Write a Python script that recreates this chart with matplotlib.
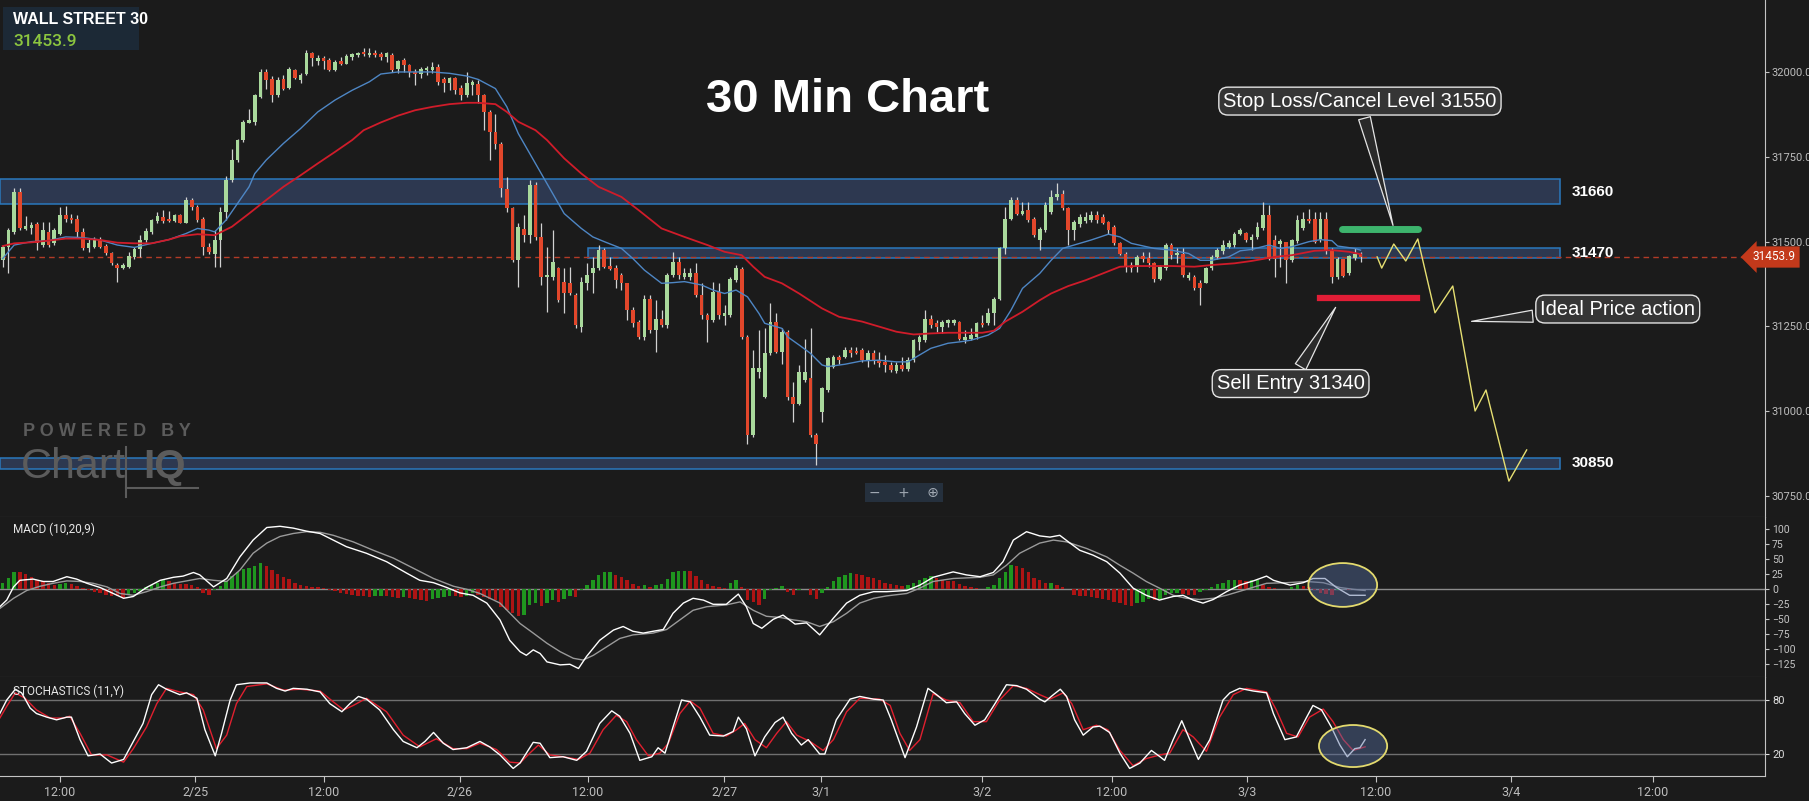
import numpy as np
import matplotlib
matplotlib.use("Agg")
import matplotlib.pyplot as plt
from matplotlib.patches import Rectangle, Ellipse
from matplotlib.lines import Line2D

plt.rcParams['font.family'] = ['Roboto', 'DejaVu Sans']

# ---------------- data (30 min bars) ----------------
opens = [31445, 31485, 31529, 31647, 31536, 31539, 31552, 31490, 31529, 31497,
         31524, 31578, 31571, 31566, 31529, 31480, 31485, 31506, 31487, 31467,
         31431, 31421, 31426, 31455, 31477, 31505, 31529, 31562, 31573, 31568,
         31562, 31578, 31556, 31623, 31603, 31568, 31485, 31465, 31505, 31588,
         31682, 31741, 31800, 31851, 31854, 31928, 32001, 31979, 31933, 31979,
         31955, 32006, 31977, 31994, 32056, 32034, 32041, 32036, 32008, 32033,
         32026, 32046, 32051, 32060, 32051, 32058, 32054, 32044, 32051, 32011,
         32036, 32021, 32001, 31994, 32006, 32006, 32016, 31979, 31967, 31982,
         31955, 31933, 31962, 31965, 31933, 31883, 31824, 31788, 31654, 31598,
         31445, 31536, 31519, 31667, 31514, 31396, 31396, 31421, 31382, 31379,
         31342, 31249, 31377, 31406, 31421, 31475, 31428, 31421, 31401, 31377,
         31298, 31264, 31219, 31332, 31239, 31273, 31254, 31401, 31440, 31396,
         31396, 31406, 31342, 31283, 31268, 31352, 31280, 31283, 31386, 31418,
         31219, 30929, 31116, 31042, 31170, 31264, 31175, 31234, 31042, 31022,
         31091, 31096, 30929, 30998, 31062, 31131, 31160, 31160, 31180, 31178,
         31180, 31150, 31170, 31152, 31145, 31136, 31119, 31136, 31123, 31150,
         31204, 31209, 31273, 31259, 31249, 31259, 31259, 31264, 31211, 31214,
         31219, 31261, 31259, 31288, 31332, 31480, 31568, 31623, 31583, 31593,
         31568, 31505, 31534, 31588, 31632, 31642, 31598, 31534, 31552, 31562,
         31564, 31578, 31573, 31559, 31544, 31495, 31465, 31431, 31426, 31457,
         31453, 31436, 31391, 31421, 31490, 31460, 31465, 31394, 31396, 31379,
         31379, 31421, 31455, 31473, 31483, 31490, 31524, 31526, 31505, 31514,
         31539, 31578, 31505, 31493, 31500, 31445, 31503, 31539, 31568, 31568,
         31505, 31568, 31475, 31396, 31448, 31406, 31453, 31463]
highs = [31490, 31539, 31657, 31657, 31575, 31559, 31559, 31559, 31559, 31539,
         31603, 31605, 31583, 31578, 31539, 31509, 31514, 31514, 31492, 31470,
         31436, 31436, 31470, 31483, 31519, 31539, 31568, 31588, 31593, 31591,
         31583, 31583, 31632, 31628, 31608, 31573, 31495, 31534, 31603, 31693,
         31775, 31802, 31859, 31893, 31937, 32011, 32011, 31989, 31987, 31992,
         32016, 32011, 31997, 32065, 32060, 32051, 32048, 32041, 32036, 32044,
         32053, 32058, 32060, 32072, 32072, 32065, 32060, 32060, 32056, 32036,
         32041, 32026, 32011, 32016, 32018, 32031, 32026, 31985, 31987, 31987,
         31962, 32001, 31977, 31977, 31937, 31888, 31878, 31795, 31692, 31603,
         31554, 31578, 31682, 31677, 31554, 31485, 31534, 31426, 31421, 31426,
         31347, 31396, 31436, 31455, 31490, 31480, 31455, 31431, 31406, 31379,
         31308, 31268, 31342, 31342, 31327, 31298, 31408, 31470, 31455, 31421,
         31421, 31436, 31377, 31288, 31382, 31377, 31313, 31396, 31431, 31426,
         31224, 31180, 31239, 31244, 31318, 31288, 31244, 31239, 31086, 31136,
         31214, 31244, 30934, 31072, 31160, 31165, 31165, 31190, 31190, 31190,
         31185, 31180, 31180, 31175, 31165, 31145, 31145, 31158, 31160, 31214,
         31224, 31298, 31283, 31268, 31270, 31273, 31273, 31266, 31239, 31244,
         31264, 31283, 31303, 31337, 31485, 31603, 31632, 31632, 31618, 31618,
         31573, 31544, 31618, 31652, 31672, 31652, 31603, 31564, 31583, 31588,
         31591, 31591, 31583, 31562, 31549, 31500, 31470, 31440, 31460, 31470,
         31470, 31440, 31431, 31497, 31495, 31480, 31480, 31411, 31401, 31386,
         31426, 31460, 31480, 31505, 31505, 31529, 31539, 31529, 31524, 31559,
         31618, 31608, 31519, 31509, 31500, 31509, 31578, 31588, 31595, 31588,
         31588, 31588, 31480, 31455, 31450, 31460, 31480, 31470]
lows = [31426, 31406, 31524, 31534, 31534, 31524, 31475, 31485, 31485, 31490,
        31519, 31559, 31554, 31514, 31475, 31470, 31480, 31480, 31460, 31431,
        31382, 31418, 31421, 31450, 31455, 31500, 31524, 31554, 31556, 31559,
        31559, 31554, 31554, 31593, 31559, 31460, 31465, 31426, 31426, 31564,
        31677, 31736, 31795, 31849, 31844, 31923, 31952, 31913, 31928, 31949,
        31952, 31979, 31967, 31992, 32018, 32021, 32011, 32004, 32004, 32021,
        32024, 32036, 32046, 32048, 32046, 32046, 32036, 32031, 32001, 31997,
        32001, 31987, 31962, 31982, 31992, 31997, 31962, 31942, 31947, 31937,
        31918, 31928, 31933, 31908, 31829, 31741, 31775, 31632, 31588, 31440,
        31367, 31500, 31495, 31505, 31372, 31293, 31386, 31322, 31288, 31342,
        31244, 31234, 31357, 31347, 31416, 31421, 31416, 31362, 31357, 31268,
        31249, 31214, 31211, 31229, 31175, 31249, 31244, 31396, 31391, 31391,
        31386, 31337, 31273, 31204, 31264, 31273, 31254, 31278, 31382, 31214,
        30904, 30924, 31096, 31037, 31165, 31170, 31140, 31032, 30968, 31017,
        31086, 30924, 30840, 30968, 31057, 31126, 31140, 31155, 31160, 31168,
        31145, 31131, 31140, 31131, 31116, 31116, 31113, 31119, 31119, 31145,
        31180, 31204, 31244, 31234, 31229, 31249, 31254, 31209, 31200, 31209,
        31214, 31249, 31254, 31254, 31327, 31465, 31564, 31578, 31578, 31559,
        31514, 31475, 31529, 31583, 31623, 31593, 31490, 31505, 31544, 31556,
        31559, 31556, 31552, 31524, 31490, 31460, 31411, 31411, 31411, 31440,
        31426, 31382, 31386, 31416, 31450, 31436, 31396, 31386, 31357, 31313,
        31377, 31416, 31450, 31465, 31480, 31485, 31519, 31500, 31475, 31509,
        31534, 31445, 31396, 31426, 31377, 31440, 31497, 31534, 31554, 31495,
        31500, 31465, 31377, 31391, 31396, 31401, 31447, 31440]
closes = [31485, 31534, 31647, 31539, 31546, 31549, 31495, 31534, 31490, 31534,
          31578, 31568, 31564, 31529, 31480, 31497, 31506, 31485, 31467, 31436,
          31421, 31431, 31457, 31477, 31506, 31532, 31564, 31575, 31562, 31562,
          31578, 31556, 31623, 31603, 31564, 31485, 31470, 31505, 31588, 31682,
          31741, 31800, 31854, 31859, 31933, 32001, 31977, 31933, 31977, 31952,
          32011, 31982, 31992, 32056, 32041, 32041, 32034, 32006, 32031, 32026,
          32048, 32054, 32058, 32053, 32058, 32051, 32046, 32056, 32006, 32033,
          32021, 32001, 31994, 32011, 32014, 32016, 31972, 31969, 31984, 31947,
          31933, 31967, 31972, 31933, 31883, 31824, 31788, 31657, 31598, 31445,
          31544, 31519, 31667, 31514, 31396, 31401, 31441, 31327, 31347, 31347,
          31254, 31382, 31401, 31421, 31475, 31426, 31420, 31386, 31377, 31298,
          31259, 31219, 31332, 31239, 31273, 31254, 31401, 31440, 31401, 31406,
          31406, 31342, 31283, 31268, 31352, 31283, 31288, 31391, 31421, 31219,
          30929, 31126, 31126, 31170, 31264, 31175, 31234, 31042, 31022, 31116,
          31116, 30929, 30904, 31067, 31155, 31160, 31150, 31180, 31170, 31172,
          31150, 31170, 31150, 31142, 31136, 31121, 31137, 31123, 31150, 31209,
          31219, 31273, 31254, 31249, 31264, 31268, 31268, 31214, 31219, 31224,
          31259, 31254, 31288, 31332, 31480, 31568, 31623, 31583, 31591, 31564,
          31519, 31536, 31608, 31632, 31642, 31598, 31534, 31559, 31573, 31573,
          31578, 31564, 31556, 31534, 31495, 31465, 31426, 31423, 31455, 31450,
          31436, 31391, 31426, 31490, 31460, 31467, 31401, 31401, 31362, 31362,
          31421, 31455, 31475, 31490, 31495, 31524, 31534, 31505, 31514, 31544,
          31578, 31450, 31450, 31503, 31445, 31505, 31564, 31568, 31562, 31500,
          31568, 31475, 31396, 31448, 31398, 31457, 31463, 31454]

# moving averages (blue fast, red slow), sampled along the lines
ma_fast_x = [0, 2, 5, 8, 11, 14, 17, 20, 23, 26, 29, 32, 34, 36, 37, 39, 41, 43, 44, 46,
             49, 52, 55, 58, 61, 64, 66, 69, 72, 75, 78, 81, 83, 86, 88, 90, 92, 94, 96, 98,
             101, 103, 105, 108, 110, 112, 115, 117, 119, 122, 124, 126, 128, 130, 132, 133,
             136, 137, 139, 141, 143, 144, 147, 150, 153, 156, 158, 160, 162, 165, 167, 169,
             172, 174, 176, 178, 181, 183, 185, 187, 190, 193, 195, 197, 201, 204, 207, 209,
             211, 214, 216, 218, 221, 223, 225, 228, 230, 232, 233, 236, 237]
ma_fast_y = [31450, 31490, 31500, 31503, 31514, 31512, 31505, 31490, 31483, 31495,
             31506, 31524, 31539, 31534, 31529, 31564, 31613, 31662, 31701, 31741,
             31790, 31834, 31883, 31918, 31947, 31972, 31995, 32001, 32001, 32001,
             31997, 31989, 31979, 31952, 31898, 31819, 31760, 31701, 31642, 31583,
             31539, 31514, 31500, 31480, 31450, 31416, 31377, 31379, 31382, 31372,
             31357, 31347, 31357, 31337, 31288, 31259, 31244, 31219, 31195, 31170,
             31136, 31131, 31138, 31148, 31150, 31145, 31145, 31165, 31185, 31200,
             31204, 31209, 31224, 31244, 31298, 31362, 31406, 31445, 31480, 31490,
             31505, 31522, 31514, 31495, 31480, 31475, 31465, 31445, 31445, 31455,
             31473, 31477, 31490, 31480, 31485, 31500, 31506, 31503, 31487, 31480, 31475]
ma_slow_x = [0, 2, 5, 8, 11, 14, 17, 20, 23, 26, 29, 31, 34, 37, 40, 43, 46, 49, 52, 55,
             58, 61, 63, 66, 69, 72, 75, 78, 81, 83, 86, 88, 90, 93, 95, 98, 101, 104, 108, 111,
             115, 119, 123, 126, 129, 131, 133, 136, 139, 143, 146, 150, 153, 156, 159, 162,
             165, 168, 171, 173, 175, 178, 181, 183, 186, 189, 192, 195, 198, 201, 204, 208,
             211, 215, 218, 222, 225, 229, 232, 235, 237]
ma_slow_y = [31487, 31495, 31498, 31503, 31509, 31509, 31505, 31497, 31495, 31495,
             31506, 31516, 31522, 31519, 31544, 31583, 31623, 31662, 31696, 31731,
             31765, 31800, 31829, 31852, 31872, 31888, 31898, 31906, 31910, 31910,
             31906, 31883, 31854, 31829, 31800, 31746, 31701, 31662, 31632, 31593,
             31539, 31514, 31490, 31470, 31460, 31426, 31396, 31377, 31347, 31303,
             31278, 31264, 31249, 31234, 31226, 31229, 31231, 31231, 31231, 31237,
             31264, 31293, 31327, 31347, 31369, 31386, 31406, 31426, 31428, 31428,
             31428, 31426, 31431, 31436, 31443, 31455, 31460, 31473, 31475, 31470, 31463]

# support / resistance zones
zone_names = ['31660', '31470', '30850']
zone_low = [31612, 31452, 30830]
zone_high = [31684, 31482, 30862]
zone_start = [-0.47, 102.2, -0.47]
zone_end = 271.8

# trade plan drawn on the chart
plan_x = [239.9, 240.7, 242.8, 244.9, 247.0, 250.0, 253.1, 257.0, 258.9, 262.9, 266.0]
plan_y = [31455, 31422, 31493, 31443, 31508, 31290, 31369, 31000, 31062, 30793, 30885]
stop_level, stop_span = 31537, (233.7, 247.0)
entry_level, entry_span = 31333, (229.9, 246.8)
last_price = 31453.9

# MACD (10,20,9)
macd_x = [-0.5, 0.7, 1.9, 3.0, 5.3, 7.1, 8.8, 11.2, 12.9, 14.7, 17.0, 19.3, 21.1, 22.8, 25.1,
          27.5, 29.8, 31.5, 33.3, 34.4, 36.8, 39.1, 41.4, 43.7, 46.1, 48.4, 50.7, 53.0, 55.4,
          57.7, 60.0, 63.5, 67.0, 70.5, 72.8, 75.2, 77.5, 79.8, 82.1, 84.5, 86.8, 88.5, 90.3,
          91.4, 92.6, 93.8, 95.0, 97.3, 99.0, 100.5, 101.9, 104.2, 106.6, 108.3, 110.0, 111.8,
          113.5, 115.3, 117.0, 118.8, 120.5, 122.3, 124.0, 126.3, 128.4, 129.8, 131.0, 132.5,
          134.5, 136.2, 138.3, 140.3, 142.6, 145.0, 147.3, 149.6, 152.0, 154.3, 157.8, 160.1,
          162.4, 165.9, 168.2, 170.6, 172.9, 174.6, 176.4, 178.7, 181.0, 182.8, 184.5, 186.3,
          188.0, 190.3, 192.7, 195.0, 197.3, 199.6, 201.9, 204.3, 206.0, 207.8, 209.5, 211.3,
          213.6, 215.9, 218.3, 220.6, 221.8, 224.7, 227.0, 228.7, 230.8, 232.8, 235.1, 237.8]
macd_y = [-30, -19, 3, 14, 16, 12, 12, 20, 16, 9, 2, -8, -16, -13, 2, 14, 19, 21, 27, 23,
          3, 17, 53, 81, 102, 104, 101, 96, 92, 81, 70, 59, 45, 26, 14, 10, 2, -7, -11, -24,
          -52, -86, -105, -111, -102, -108, -122, -127, -126, -133, -113, -86, -69, -63, -71,
          -74, -71, -68, -41, -24, -16, -19, -26, -26, -9, -30, -58, -66, -51, -44, -59, -57,
          -77, -49, -24, -11, -5, -5, -3, 6, 19, 28, 23, 20, 27, 45, 81, 95, 88, 86, 89, 76,
          64, 56, 45, 26, 1, -11, -19, -13, -11, -19, -24, -18, -5, 6, 13, 21, 14, 6, 10, 17,
          17, 2, -11, -11]
signal_x = [-0.5, 1.9, 4.2, 6.5, 8.8, 11.2, 13.5, 15.8, 18.2, 20.5, 22.8, 25.1, 27.5, 29.8,
            32.1, 34.4, 36.8, 39.1, 41.4, 43.7, 46.1, 48.4, 50.7, 53.0, 55.4, 57.7, 61.2, 64.7,
            68.2, 71.7, 75.2, 78.7, 81.0, 83.3, 86.8, 90.3, 92.6, 95.0, 97.3, 99.6, 101.3, 103.1,
            105.4, 107.7, 110.0, 113.5, 115.9, 118.2, 120.5, 122.9, 126.3, 128.7, 131.0, 133.3,
            135.7, 138.0, 140.3, 142.6, 145.0, 147.3, 149.6, 152.0, 154.3, 157.8, 160.1, 162.4,
            165.9, 170.6, 172.9, 175.2, 177.5, 181.0, 183.4, 185.7, 189.2, 192.7, 195.0, 197.3,
            199.6, 201.9, 204.3, 206.6, 208.9, 211.3, 213.6, 217.1, 220.6, 224.1, 227.6, 230.5,
            233.4, 235.7, 237.8]
signal_y = [-33, -16, -3, 4, 9, 13, 12, 9, 3, -8, -11, -5, 3, 9, 13, 17, 14, 12, 31, 59,
            76, 87, 92, 95, 94, 89, 78, 64, 51, 34, 17, 4, -1, -8, -24, -58, -74, -91, -105,
            -116, -119, -111, -97, -83, -77, -74, -68, -52, -36, -30, -27, -22, -36, -46, -48,
            -52, -55, -63, -55, -41, -24, -16, -12, -8, 1, 12, 17, 19, 23, 39, 59, 76, 81, 78,
            67, 53, 39, 26, 12, 1, -11, -16, -18, -16, -11, -1, 9, 10, 12, 10, 2, -1, -3]
macd_hist = [9, 17, 28, 27, 24, 20, 15, 12, 9, 6,
             7, 9, 8, 4, 1, -2, -5, -8, -11, -12,
             -13, -15, -11, -8, -4, 2, 6, 10, 14, 12,
             9, 8, 7, 6, 3, -8, -10, -3, 4, 12,
             21, 28, 32, 34, 37, 42, 38, 31, 24, 19,
             16, 10, 6, 5, 3, 2, 1, -2, -4, -7,
             -9, -11, -12, -13, -14, -13, -12, -13, -14, -15,
             -14, -16, -18, -19, -20, -18, -16, -14, -12, -13,
             -14, -12, -8, -11, -14, -17, -19, -30, -36, -41,
             -46, -44, -27, -24, -29, -24, -19, -22, -18, -13,
             -14, -3, 6, 14, 23, 27, 28, 23, 20, 14,
             8, 5, 6, 3, 6, 7, 16, 27, 29, 30,
             29, 21, 14, 8, 4, 2, 1, 9, 14, 2,
             -19, -22, -27, -18, -2, 1, 4, -5, -11, -2,
             -1, -11, -18, -8, 2, 12, 19, 23, 26, 25,
             23, 20, 17, 14, 10, 8, 6, 4, 6, 10,
             14, 17, 21, 17, 14, 13, 12, 8, 4, 2,
             1, 0, 2, 6, 17, 28, 39, 38, 34, 28,
             17, 14, 9, 10, 6, 2, -1, -10, -12, -13,
             -14, -16, -18, -19, -22, -24, -27, -29, -24, -22,
             -17, -19, -18, -10, -8, -7, -9, -10, -11, -5,
             -2, 3, 8, 10, 14, 15, 14, 12, 14, 15,
             6, 2, 1, -1, -1, 2, 6, 4, 2, -3,
             -7, -9, -11, -2, -1, -2, -1, -1]

# STOCHASTICS (11,Y)
stoch_k_x = [-0.5, 0.7, 2.2, 3.3, 4.8, 5.9, 7.7, 9.4, 11.2, 12.0, 13.5, 14.9, 17.0, 19.0, 21.1,
             22.8, 24.5, 26.0, 27.2, 28.6, 30.9, 32.1, 33.9, 35.3, 37.1, 38.2, 39.7, 40.8, 43.2,
             46.1, 47.8, 49.3, 50.7, 53.1, 55.4, 57.1, 59.2, 60.6, 62.1, 63.5, 65.8, 68.2, 69.9,
             72.3, 73.7, 75.2, 76.9, 78.6, 81.0, 83.3, 85.0, 86.8, 89.1, 90.3, 91.4, 92.6, 93.8,
             95.5, 97.8, 100.2, 101.9, 104.2, 106.3, 107.7, 109.5, 111.2, 113.3, 114.4, 115.6,
             117.0, 118.5, 120.0, 121.7, 123.4, 125.8, 127.5, 128.4, 129.8, 131.3, 133.0, 134.8,
             136.2, 137.7, 139.4, 140.6, 142.6, 143.5, 145.5, 147.9, 149.6, 152.0, 153.7, 155.1,
             157.5, 159.5, 161.5, 163.0, 164.7, 166.5, 167.9, 169.7, 171.4, 173.2, 175.2, 177.0,
             178.7, 181.0, 181.9, 183.4, 184.6, 185.7, 187.1, 188.6, 190.3, 191.5, 193.2, 195.0,
             196.7, 198.5, 200.5, 202.0, 202.8, 204.3, 205.8, 207.2, 208.7, 210.7, 213.0, 214.2,
             215.9, 218.3, 220.6, 221.8, 223.8, 225.8, 227.6, 228.7, 230.2, 231.9, 233.4, 234.7,
             236.0, 236.9, 237.8]
stoch_k_y = [65, 80, 92, 88, 71, 65, 61, 58, 61, 61, 36, 18, 20, 10, 14, 34, 54, 86, 97, 92,
             86, 88, 82, 47, 18, 43, 80, 97, 99, 99, 93, 90, 93, 92, 89, 76, 67, 76, 84, 81,
             69, 47, 34, 27, 34, 44, 32, 25, 27, 34, 28, 19, 4, 10, 21, 33, 32, 16, 17, 13,
             23, 54, 68, 62, 43, 13, 17, 27, 21, 50, 80, 78, 61, 41, 40, 45, 61, 48, 18, 39,
             55, 61, 43, 30, 36, 20, 20, 58, 81, 84, 81, 80, 58, 16, 50, 93, 86, 77, 78, 65,
             52, 58, 76, 97, 96, 92, 81, 78, 86, 92, 84, 58, 41, 50, 51, 44, 21, 4, 10, 24,
             17, 13, 36, 57, 36, 14, 36, 80, 88, 93, 90, 88, 65, 36, 39, 61, 74, 69, 50, 30,
             17, 26, 27, 36]
stoch_d_x = [-0.5, 0.7, 2.2, 3.9, 5.9, 8.3, 10.6, 11.7, 13.5, 15.5, 18.2, 21.1, 22.8, 25.1,
             26.9, 28.6, 30.9, 33.3, 35.0, 37.3, 39.1, 40.8, 42.6, 46.1, 49.0, 51.9, 55.4, 57.7,
             59.5, 61.2, 63.5, 67.0, 69.9, 72.8, 75.7, 78.6, 81.0, 83.3, 86.2, 88.5, 90.3, 92.0,
             93.5, 95.5, 97.8, 100.5, 102.5, 104.8, 107.1, 108.9, 110.6, 112.7, 114.7, 116.2,
             118.2, 120.0, 121.7, 124.0, 126.3, 128.1, 129.5, 131.3, 133.3, 135.1, 136.8, 138.6,
             140.9, 143.2, 145.0, 147.3, 149.6, 153.1, 154.9, 156.6, 158.3, 160.1, 162.4, 164.7,
             167.1, 169.4, 171.7, 174.0, 176.4, 178.7, 181.0, 182.8, 185.1, 186.6, 188.6, 190.9,
             192.9, 195.0, 197.3, 199.6, 202.0, 203.7, 206.0, 207.8, 210.1, 212.4, 214.8, 217.1,
             220.6, 222.3, 224.1, 226.1, 228.1, 230.5, 232.2, 234.0, 235.7, 237.8]
stoch_d_y = [60, 73, 88, 82, 69, 60, 60, 62, 43, 19, 19, 11, 26, 50, 76, 93, 89, 86, 69, 26,
             41, 76, 95, 98, 91, 92, 90, 78, 69, 74, 82, 67, 41, 28, 37, 26, 26, 32, 25, 11,
             10, 21, 30, 19, 17, 14, 21, 47, 63, 56, 36, 18, 21, 32, 65, 79, 71, 43, 40, 47,
             54, 36, 27, 43, 56, 41, 34, 24, 36, 67, 82, 81, 74, 43, 24, 36, 87, 80, 77, 56,
             56, 80, 96, 93, 86, 81, 88, 76, 47, 52, 47, 24, 7, 15, 19, 21, 47, 39, 23, 61,
             86, 93, 89, 69, 43, 39, 61, 70, 56, 36, 24, 28]

tick_pos = [10.0, 33.6, 56.1, 79.8, 102.1, 125.9, 142.8, 170.9, 193.6, 217.2, 239.7, 263.2, 288.0]
tick_lab = ['12:00', '2/25', '12:00', '2/26', '12:00', '2/27', '3/1', '3/2', '12:00', '3/3',
            '12:00', '3/4', '12:00']

# ---------------- drawing ----------------
BG = '#1b1b1b'
W, H = 1809, 801
ARIAL = ['Liberation Sans', 'DejaVu Sans']
NARROW = ['Liberation Sans Narrow', 'Liberation Sans', 'DejaVu Sans']


def fx(x):
    return x / W


def fy(y):
    return 1 - y / H


fig = plt.figure(figsize=(W / 100, H / 100), dpi=100, facecolor=BG)
ax = fig.add_axes([0, fy(517), fx(1765), 517 / H])
axm = fig.add_axes([0, fy(677), fx(1765), 160 / H])
axs = fig.add_axes([0, fy(776), fx(1765), 99 / H])

for a in (ax, axm, axs):
    a.set_facecolor(BG)
    a.set_xlim(-0.47, 307.6)
    for s in ('top', 'left'):
        a.spines[s].set_visible(False)
    a.spines['right'].set_color('#c4c4c4')
    a.spines['bottom'].set_color('#5e5e5e')
    a.yaxis.tick_right()
    a.tick_params(axis='y', colors='#c4c4c4', labelsize=8, length=3, pad=2)
    a.tick_params(axis='x', bottom=False, labelbottom=False)
axs.spines['bottom'].set_color('#c4c4c4')

# main price panel
ax.set_ylim(30687, 32213.5)
ticks = [30750, 31000, 31250, 31500, 31750, 32000]
ax.set_yticks(ticks)
ax.set_yticklabels([f'{t:.1f}' for t in ticks])
for lab in ax.get_yticklabels():
    lab.set_color('#bdbdbd')

for name, lo, hi, x0 in zip(zone_names, zone_low, zone_high, zone_start):
    ax.add_patch(Rectangle((x0, lo), zone_end - x0, hi - lo, fc='#2d3850', ec='#2a78bd',
                           lw=1.1, zorder=1))
    ax.text(273.9, (lo + hi) / 2, name, color='white', fontsize=11, fontweight='bold',
            family=NARROW, va='center', ha='left')

ax.axhline(last_price, color='#b23b27', lw=1, dashes=(4, 3), zorder=2)

o = np.array(opens)
c = np.array(closes)
idx = np.arange(len(c))
up = c >= o
ax.vlines(idx, lows, highs, colors='#d2d2d2', lw=0.9, zorder=3)
ax.bar(idx, np.maximum(np.abs(c - o), 3), 0.64, np.minimum(o, c),
       color=np.where(up, '#a9d99c', '#e2472b'), lw=0, zorder=4)

ax.plot(ma_fast_x, ma_fast_y, color='#4e86c4', lw=1, zorder=5)
ax.plot(ma_slow_x, ma_slow_y, color='#d01c2a', lw=1.3, zorder=5)

ax.plot(plan_x, plan_y, color='#e6df72', lw=1, zorder=6)
ax.plot(stop_span, [stop_level] * 2, color='#3db46d', lw=5, solid_capstyle='round', zorder=6)
ax.plot(entry_span, [entry_level] * 2, color='#e21d36', lw=4.5, zorder=6)

box = dict(boxstyle='round,pad=0.22,rounding_size=0.45', fc='#353535', ec='#e4e4e4', lw=1)
wedge = dict(arrowstyle='wedge,tail_width=0.6,shrink_factor=0.5', fc='#2a2a2a',
             ec='#e4e4e4', lw=0.9)
for txt, tip, pos in [('Stop Loss/Cancel Level 31550', (242.8, 31540), (236.9, 31915)),
                      ('Sell Entry 31340', (232.9, 31313), (224.8, 31081)),
                      ('Ideal Price action', (255.9, 31264), (281.9, 31301))]:
    ax.annotate(txt, xy=tip, xytext=pos, ha='center', va='center', fontsize=14.5,
                color='white', family=ARIAL, bbox=box, arrowprops=wedge, zorder=8)

# MACD panel
axm.set_ylim(-147.2, 119.5)
axm.set_yticks([100, 75, 50, 25, 0, -25, -50, -75, -100, -125])
axm.tick_params(axis='y', labelsize=7.5)
axm.axhline(0, color='#8c8c8c', lw=1, zorder=1)
hist = np.array(macd_hist)
rising = np.diff(hist, prepend=hist[0] - 1) > 0
axm.bar(np.arange(len(hist)), hist, 0.6, color=np.where(rising, '#1f961f', '#ad1414'),
        lw=0, zorder=2)
axm.plot(signal_x, signal_y, color='#9a9a9a', lw=1, zorder=3)
axm.plot(macd_x, macd_y, color='white', lw=1, zorder=4)
axm.add_patch(Ellipse((233.9, 6.2), 12.0, 73, fc=(0.33, 0.42, 0.62, 0.45), ec='#e3da6e',
                      lw=1.3, zorder=6))

# stochastics panel
axs.set_ylim(-4.4, 105.6)
axs.set_yticks([80, 20])
axs.tick_params(axis='y', labelsize=8, colors='#e0e0e0')
axs.axhline(80, color='#707070', lw=1, zorder=1)
axs.axhline(20, color='#707070', lw=1, zorder=1)
axs.plot(stoch_d_x, stoch_d_y, color='#e0202f', lw=1, zorder=3)
axs.plot(stoch_k_x, stoch_k_y, color='white', lw=1, zorder=4)
axs.add_patch(Ellipse((235.7, 28.9), 11.9, 46.7, fc=(0.33, 0.42, 0.62, 0.45), ec='#e3da6e',
                      lw=1.3, zorder=6))
axs.set_xticks(tick_pos)
axs.set_xticklabels(tick_lab)
axs.tick_params(axis='x', bottom=True, labelbottom=True, colors='#c4c4c4', labelsize=9,
                length=4, pad=3)
for lab in axs.get_xticklabels():
    lab.set_color('#bdbdbd')

# panel captions
fig.text(fx(13), fy(529), 'MACD (10,20,9)', color='#e6e6e6', fontsize=8.5, va='center')
fig.text(fx(13), fy(691), 'STOCHASTICS (11,Y)', color='#e6e6e6', fontsize=8.5, va='center')

# header and title
fig.patches.append(Rectangle((fx(3), fy(50)), fx(136), 43 / H, transform=fig.transFigure,
                             fc='#1c2936', ec='none', zorder=0))
fig.text(fx(13), fy(24), 'WALL STREET 30', color='white', fontsize=11.5, fontweight='bold',
         family=NARROW, va='baseline')
fig.text(fx(13), fy(46), '31453.9', color='#8cc63f', fontsize=12.5, fontweight='medium',
         va='baseline')
fig.text(fx(847.5), fy(112), '30 Min Chart', color='white', fontsize=34, fontweight='bold',
         family=ARIAL, ha='center', va='baseline')

# current price tag
fig.text(fx(1774), fy(257), '31453.9', color='white', fontsize=8.5, ha='center', va='center',
         bbox=dict(boxstyle='larrow,pad=0.35', fc='#c3391b', ec='none'))

# watermark
wm = '#5c5c5c'
fig.text(fx(23), fy(436), 'P O W E R E D   B Y', color=wm, fontsize=13, fontweight='bold',
         family=ARIAL, va='baseline')
fig.text(fx(21), fy(478), 'Chart', color=wm, fontsize=31, family=ARIAL, va='baseline')
fig.text(fx(143), fy(478), 'IQ', color=wm, fontsize=29, fontweight='bold', family=ARIAL,
         va='baseline')
fig.lines.append(Line2D([fx(126), fx(126)], [fy(447), fy(497)], transform=fig.transFigure,
                        color=wm, lw=1.5))
fig.lines.append(Line2D([fx(126), fx(198)], [fy(488), fy(488)], transform=fig.transFigure,
                        color=wm, lw=1.5))

# zoom control
fig.patches.append(Rectangle((fx(865), fy(502)), fx(78), 19 / H, transform=fig.transFigure,
                             fc='#25303d', ec='none'))
fig.text(fx(904), fy(492.5), '\u2212    +    \u2295', color='#a0a8b2', fontsize=10,
         ha='center', va='center', family=['DejaVu Sans'])

fig.savefig('out.png', dpi=100, facecolor=BG)
